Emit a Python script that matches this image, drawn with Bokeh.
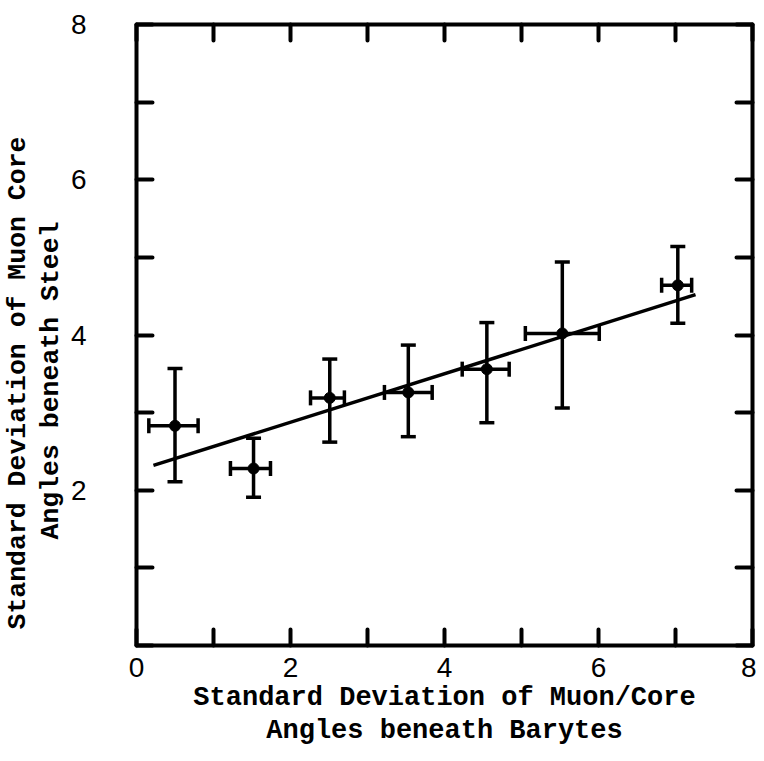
from bokeh.plotting import figure
from bokeh.models import (ColumnDataSource, Whisker, TeeHead, LinearAxis,
                          FixedTicker, Title, Range1d)
from bokeh.embed import file_html
from bokeh.resources import INLINE

# ---- data ----
x_vals = [0.50, 1.52, 2.51, 3.53, 4.55, 5.53, 7.03]
y_vals = [2.83, 2.28, 3.19, 3.26, 3.56, 4.02, 4.64]
x_lo = [0.16, 1.22, 2.26, 3.22, 4.23, 5.05, 6.82]
x_hi = [0.80, 1.74, 2.70, 3.84, 4.84, 6.01, 7.21]
y_lo = [2.11, 1.91, 2.62, 2.69, 2.87, 3.06, 4.15]
y_hi = [3.57, 2.67, 3.69, 3.87, 4.16, 4.94, 5.14]
fit_x = [0.22, 7.26]
fit_y = [2.32, 4.52]
tick_vals = [0, 1, 2, 3, 4, 5, 6, 7, 8]
x_tick_labels = {0: "0", 1: "", 2: "2", 3: "", 4: "4", 5: "", 6: "6", 7: "", 8: "8"}
y_tick_labels = {0: "", 1: "", 2: "2", 3: "", 4: "4", 5: "", 6: "6", 7: "", 8: "8"}
x_title = ["Standard Deviation of Muon/Core", "Angles beneath Barytes"]
y_title = ["Standard Deviation of Muon Core", "Angles beneath Steel"]

TITLE_FONT = "Liberation Mono"
TICK_FONT = "Liberation Sans"

src = ColumnDataSource(dict(x=x_vals, y=y_vals, xlo=x_lo, xhi=x_hi, ylo=y_lo, yhi=y_hi))

p = figure(width=756, height=745, output_backend="svg", toolbar_location=None,
           x_range=Range1d(0, 8), y_range=Range1d(0, 8),
           x_axis_location=None, y_axis_location=None,
           min_border_left=136, min_border_right=4, min_border_top=24,
           min_border_bottom=0)
p.grid.visible = False
p.outline_line_color = "black"
p.outline_line_width = 4
p.background_fill_color = "white"
p.border_fill_color = "white"

def make_axis(overrides, show_labels, standoff):
    ax = LinearAxis(ticker=FixedTicker(ticks=tick_vals))
    ax.major_label_overrides = overrides
    ax.axis_line_color = None
    ax.major_tick_in = 16
    ax.major_tick_out = 0
    ax.major_tick_line_width = 4
    ax.major_tick_line_cap = "round"
    ax.major_tick_line_color = "black"
    ax.minor_tick_line_color = None
    ax.major_label_standoff = standoff
    if show_labels:
        ax.major_label_text_font = TICK_FONT
        ax.major_label_text_font_size = "28px"
        ax.major_label_text_color = "black"
    else:
        ax.major_label_text_font_size = "1px"
        ax.major_label_text_alpha = 0
    return ax

p.add_layout(make_axis(x_tick_labels, True, 12), "below")
p.add_layout(make_axis(y_tick_labels, True, 50), "left")
p.add_layout(make_axis({t: "" for t in tick_vals}, False, 0), "above")
p.add_layout(make_axis({t: "" for t in tick_vals}, False, 0), "right")

for i, txt in enumerate(x_title):
    t = Title(text=txt, align="center", text_font=TITLE_FONT, text_font_size="27px",
              text_font_style="bold", text_color="black", standoff=0 if i else 2)
    p.add_layout(t, "below")

# y titles: nearer line first; start (bottom end) offsets from the frame bottom
y_offsets = [106, 16]
for i, txt in enumerate(reversed(y_title)):
    t = Title(text=txt, align="left", offset=y_offsets[i], text_font=TITLE_FONT,
              text_font_size="26.5px", text_font_style="bold", text_color="black",
              standoff=0 if i else 3)
    p.add_layout(t, "left")

# fitted line
p.line(fit_x, fit_y, line_color="black", line_width=3.5)

# error bars
head = dict(size=15, line_width=3.5, line_color="black")
p.add_layout(Whisker(source=src, base="x", lower="ylo", upper="yhi", dimension="height",
                     line_width=3.5, line_color="black",
                     lower_head=TeeHead(**head), upper_head=TeeHead(**head)))
p.add_layout(Whisker(source=src, base="y", lower="xlo", upper="xhi", dimension="width",
                     line_width=3.5, line_color="black",
                     lower_head=TeeHead(**head), upper_head=TeeHead(**head)))

p.scatter("x", "y", source=src, size=11, color="black")

open("out.html", "w").write(file_html(p, INLINE))
